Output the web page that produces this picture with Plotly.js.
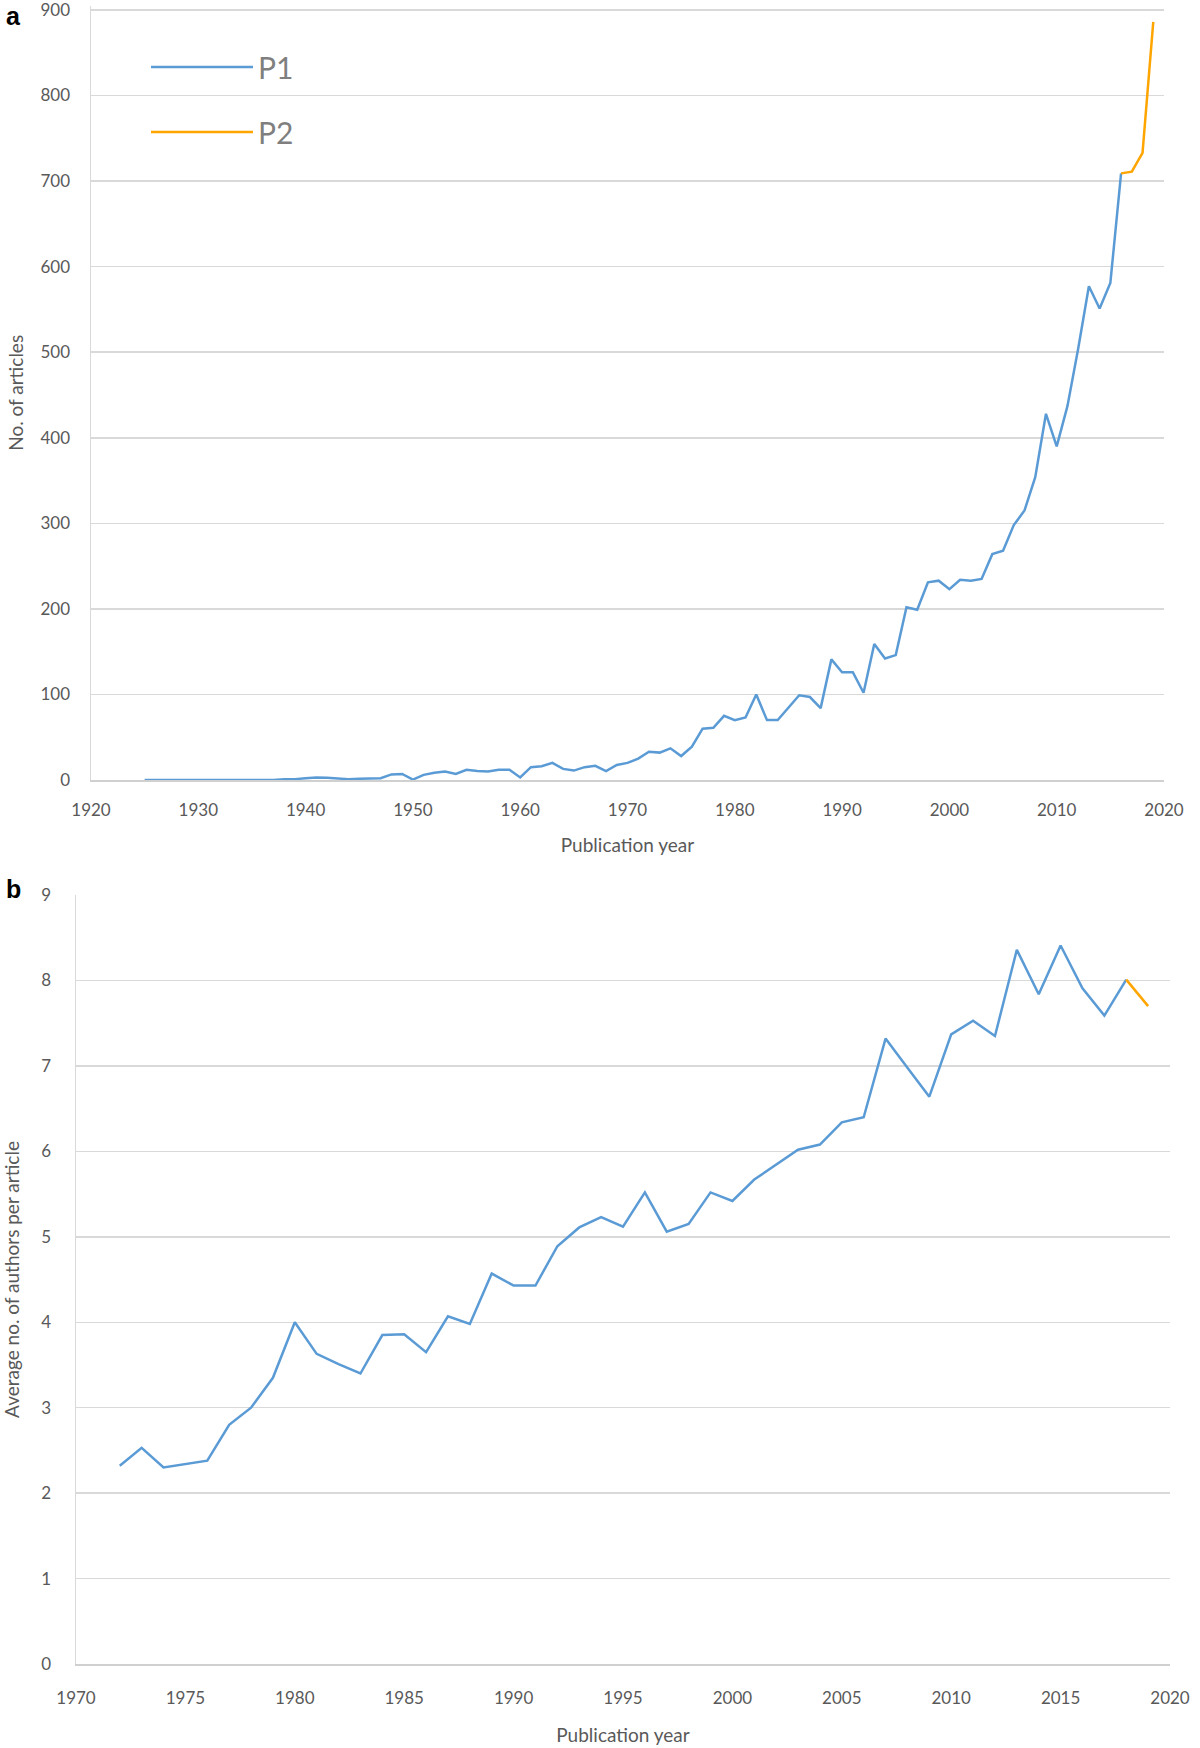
<!DOCTYPE html>
<html>
<head>
<meta charset="utf-8">
<script src="https://cdn.plot.ly/plotly-3.0.1.min.js"></script>
<style>html,body{margin:0;padding:0;background:#fff;}#chart{width:1200px;height:1748px;}</style>
</head>
<body>
<div id="chart"></div>
<script>
// ---- Panel a: number of articles per publication year ----
const yearsA_P1 = [1925,1926,1927,1928,1929,1930,1931,1932,1933,1934,1935,1936,1937,1938,1939,1940,1941,1942,1943,1944,1945,1946,1947,1948,1949,1950,1951,1952,1953,1954,1955,1956,1957,1958,1959,1960,1961,1962,1963,1964,1965,1966,1967,1968,1969,1970,1971,1972,1973,1974,1975,1976,1977,1978,1979,1980,1981,1982,1983,1984,1985,1986,1987,1988,1989,1990,1991,1992,1993,1994,1995,1996,1997,1998,1999,2000,2001,2002,2003,2004,2005,2006,2007,2008,2009,2010,2011,2012,2013,2014,2015,2016];
const articlesP1 = [0,0,0,0,0,0,0,0,0,0,0,0,0,1,1,2,3,2.5,2,1,1.5,1.5,2,6.5,7,0.5,6,8.5,10,7,12,10.5,10,12,12,3,15,16,20,13,11,15,16.5,10.5,17.5,20,25,33,32,37,28,39,60,61,75,70,73,100,70,70,84,99,97,84,141,126,126,102,159,142,146,202,199,231,233,223,234,233,235,264,268,298,315,354,428,390,437,504,577,551,581,709];
const yearsA_P2 = [2016,2017,2018,2019];
const articlesP2 = [709,711,733,886];

// ---- Panel b: average number of authors per article ----
const yearsB_P1 = [1972,1973,1974,1975,1976,1977,1978,1979,1980,1981,1982,1983,1984,1985,1986,1987,1988,1989,1990,1991,1992,1993,1994,1995,1996,1997,1998,1999,2000,2001,2002,2003,2004,2005,2006,2007,2008,2009,2010,2011,2012,2013,2014,2015,2016,2017,2018];
const authorsP1 = [2.32,2.53,2.30,2.34,2.38,2.80,3.00,3.35,4.00,3.63,3.51,3.40,3.85,3.86,3.65,4.07,3.98,4.57,4.43,4.43,4.89,5.11,5.23,5.12,5.52,5.06,5.15,5.52,5.42,5.67,5.85,6.02,6.08,6.34,6.40,7.32,6.98,6.64,7.37,7.53,7.35,8.36,7.84,8.41,7.91,7.59,8.01];
const yearsB_P2 = [2018,2019];
const authorsP2 = [8.01,7.70];

const seriesNames = ['P1','P2'];
const seriesColors = ['#5B9BD5','#FFA500'];

const FONT = "Lato, 'Open Sans', sans-serif";
const GREY = '#595959';
const GRID = '#d9d9d9';

const traces = [
  {x: yearsA_P1, y: articlesP1, name: seriesNames[0], legendgroup: 'P1', type: 'scatter', mode: 'lines',
   line: {color: seriesColors[0], width: 2.5}, xaxis: 'x', yaxis: 'y'},
  {x: yearsA_P2, y: articlesP2, name: seriesNames[1], legendgroup: 'P2', type: 'scatter', mode: 'lines',
   line: {color: seriesColors[1], width: 2.5}, xaxis: 'x', yaxis: 'y'},
  {x: yearsB_P1, y: authorsP1, name: seriesNames[0], legendgroup: 'P1', showlegend: false, type: 'scatter', mode: 'lines',
   line: {color: seriesColors[0], width: 2.5}, xaxis: 'x2', yaxis: 'y2'},
  {x: yearsB_P2, y: authorsP2, name: seriesNames[1], legendgroup: 'P2', showlegend: false, type: 'scatter', mode: 'lines',
   line: {color: seriesColors[1], width: 2.5}, xaxis: 'x2', yaxis: 'y2'}
];

const W = 1200, H = 1748;
function px(x){return x / W;}
function py(y){return 1 - y / H;}

const axisCommon = {
  showgrid: true, gridcolor: GRID, gridwidth: 1.5,
  zeroline: false, ticks: '', showline: true, linecolor: GRID, linewidth: 1.5,
  tickfont: {family: FONT, size: 17, color: GREY}, ticklabeloverflow: 'allow'
};

const layout = {
  width: W, height: H,
  margin: {l: 0, r: 0, t: 0, b: 0},
  paper_bgcolor: '#ffffff', plot_bgcolor: '#ffffff',
  font: {family: FONT, color: GREY},
  showlegend: true,
  legend: {x: px(146), y: py(41), xanchor: 'left', yanchor: 'top', bgcolor: 'rgba(0,0,0,0)',
           font: {family: FONT, size: 30, color: '#7f7f7f'}, tracegroupgap: 23, itemwidth: 102},
  xaxis: Object.assign({}, axisCommon, {
    domain: [px(91), px(1164)], anchor: 'y', range: [1920, 2020], tick0: 1920, dtick: 10,
    showgrid: false, linecolor: '#d0d0d0', ticklabelstandoff: 14,
    title: {text: 'Publication year', font: {family: FONT, size: 19, color: GREY}, standoff: 20}
  }),
  yaxis: Object.assign({}, axisCommon, {
    domain: [py(780), py(5.7)], anchor: 'x', range: [0, 905], tick0: 0, dtick: 100,
    ticklabelstandoff: 16,
    title: {text: 'No. of articles', font: {family: FONT, size: 19, color: GREY}, standoff: 12}
  }),
  xaxis2: Object.assign({}, axisCommon, {
    domain: [px(76), px(1170)], anchor: 'y2', range: [1970, 2020], tick0: 1970, dtick: 5,
    showgrid: false, linecolor: '#d0d0d0', ticklabelstandoff: 18,
    title: {text: 'Publication year', font: {family: FONT, size: 19, color: GREY}, standoff: 22}
  }),
  yaxis2: Object.assign({}, axisCommon, {
    domain: [py(1664), py(895)], anchor: 'x2', range: [0, 9.001], tick0: 0, dtick: 1,
    ticklabelstandoff: 20,
    title: {text: 'Average no. of authors per article', font: {family: FONT, size: 19, color: GREY}, standoff: 22}
  }),
  annotations: [
    {text: '<b>a</b>', xref: 'paper', yref: 'paper', x: px(13), y: py(16), xanchor: 'center', yanchor: 'middle',
     showarrow: false, font: {family: 'Liberation Sans, Arial, sans-serif', size: 25, color: '#000'}},
    {text: '<b>b</b>', xref: 'paper', yref: 'paper', x: px(13), y: py(889), xanchor: 'center', yanchor: 'middle',
     showarrow: false, font: {family: 'Liberation Sans, Arial, sans-serif', size: 25, color: '#000'}}
  ]
};

Plotly.newPlot('chart', traces, layout, {displayModeBar: false, staticPlot: true});
</script>
</body>
</html>
